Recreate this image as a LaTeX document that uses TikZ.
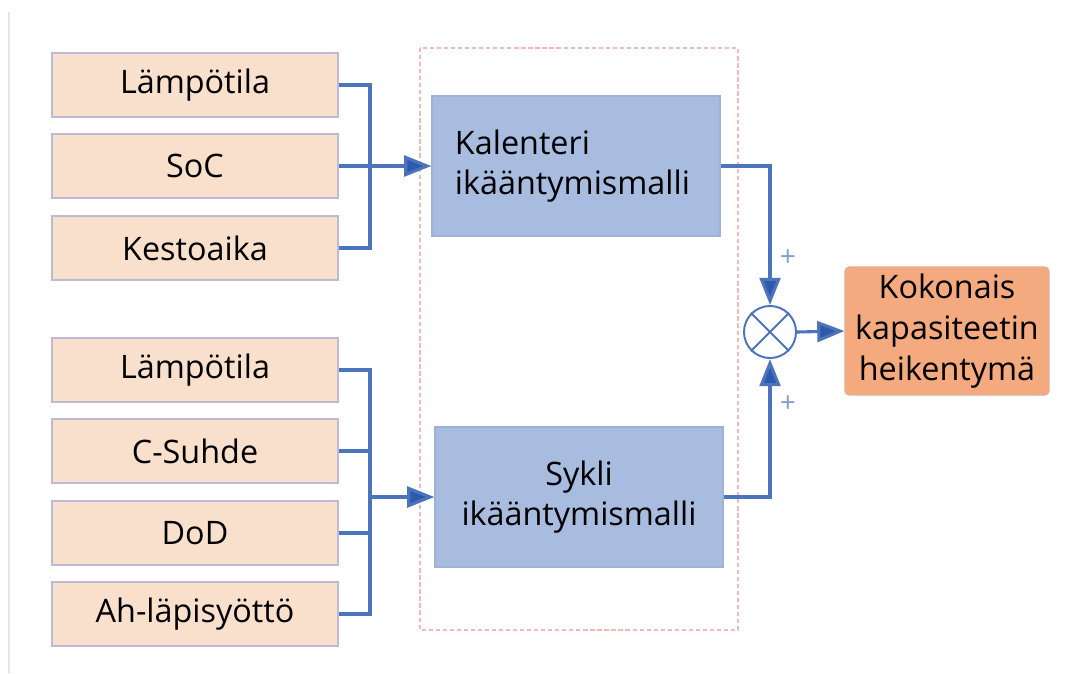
\documentclass[tikz,border=0pt]{standalone}
\usepackage{fontspec}
\setmainfont{Open Sans}
\usepackage{tikz}
\usetikzlibrary{arrows.meta}

\definecolor{inputfill}{HTML}{F9E0CD}
\definecolor{inputdraw}{HTML}{BDB9D6}
\definecolor{modelfill}{HTML}{A7BCDF}
\definecolor{modeldraw}{HTML}{9DB1D9}
\definecolor{resfill}{HTML}{F4AA7E}
\definecolor{resdraw}{HTML}{E4AE98}
\definecolor{wire}{HTML}{4C74BC}
\definecolor{tip}{HTML}{2E5AAC}
\definecolor{framered}{HTML}{F4B8B8}

\begin{document}
\begin{tikzpicture}[thick, x=0.025cm, y=-0.025cm,
    every node/.style={font=\fontsize{23}{29}\selectfont}]
    % `input' is used for the parameter boxes on the left.
    % `model' is used for the two ageing models.
    % `result' is used for the total capacity fade box.
    % `sum' is the summing junction (circle with a cross).
    \tikzstyle{input} = [draw=inputdraw,fill=inputfill,line width=1.5pt,
                         minimum width=7.15cm,minimum height=1.6cm,inner sep=0pt]
    \tikzstyle{model} = [draw=modeldraw,fill=modelfill,line width=0.8pt,
                         minimum width=7.2cm,minimum height=3.5cm]
    \tikzstyle{result} = [draw=resdraw,fill=resfill,line width=0.8pt,rounded corners=3pt,
                          minimum width=5.1cm,minimum height=3.2cm,align=center]
    \tikzstyle{sum} = [draw=wire,fill=white,shape=circle,line width=1.4pt,
                       minimum size=1.3cm,inner sep=0pt]
    \tikzstyle{wire} = [draw=wire,line width=2.2pt]
    \tikzstyle{arrow} = [wire,-{Triangle[length=0.68cm,width=0.52cm,fill=tip]}]
    %
    \useasboundingbox (0,0) rectangle (1069,673);
    \draw[black!10,line width=2pt] (9,12) -- (9,673);
    % Dashed frame round the models.
    \draw[framered,dashed,line width=1.2pt,dash pattern=on 3pt off 2pt] (420,48) rectangle (738,630);
    %
    % Calendar ageing inputs.
    \node[input] (temp1) at (195,85)  {Lämpötila};
    \node[input] (soc)   at (195,166) {SoC};
    \node[input] (dur)   at (195,248) {Kestoaika};
    % Cycle ageing inputs.
    \node[input] (temp2) at (195,370) {Lämpötila};
    \node[input] (crate) at (195,451) {C-Suhde};
    \node[input] (dod)   at (195,533) {DoD};
    \node[input] (ah)    at (195,614) {Ah-läpisyöttö};
    %
    \node[model,text width=6.05cm,align=left,inner xsep=0.575cm] (kal) at (576,166) {Kalenteri\\ikääntymismalli};
    \node[model,align=center] (syk) at (579,497) {Sykli\\ikääntymismalli};
    \node[sum] (sum) at (770,332) {};
    \node[result] (res) at (947,331) {Kokonais\\kapasiteetin\\heikentymä};
    \node[text=wire!70,font=\fontsize{20}{20}\selectfont] (plus1) at (788,258) {+};
    \node[text=wire!70,font=\fontsize{20}{20}\selectfont] (plus2) at (788,404) {+};
    %
    \coordinate (bus1) at (370,166);
    \coordinate (bus2) at (370,497);
    % Draw lines.
    \draw[wire] (temp1.east) -| (bus1) |- (dur.east);
    \draw[arrow] (soc.east) -- (kal.west);
    \draw[wire] (temp2.east) -| (bus2) |- (ah.east);
    \draw[wire] (crate.east) -- (crate.east -| bus2)
                (dod.east) -- (dod.east -| bus2);
    \draw[arrow] (bus2) -- (syk.west);
    \draw[arrow] (kal.east) -| (sum.north);
    \draw[arrow] (syk.east) -| (sum.south);
    \draw[arrow] (sum.east) -- (res.west);
    \draw[wire,line width=1.4pt] (sum.north east) -- (sum.south west)
                                 (sum.north west) -- (sum.south east);
\end{tikzpicture}
\end{document}
